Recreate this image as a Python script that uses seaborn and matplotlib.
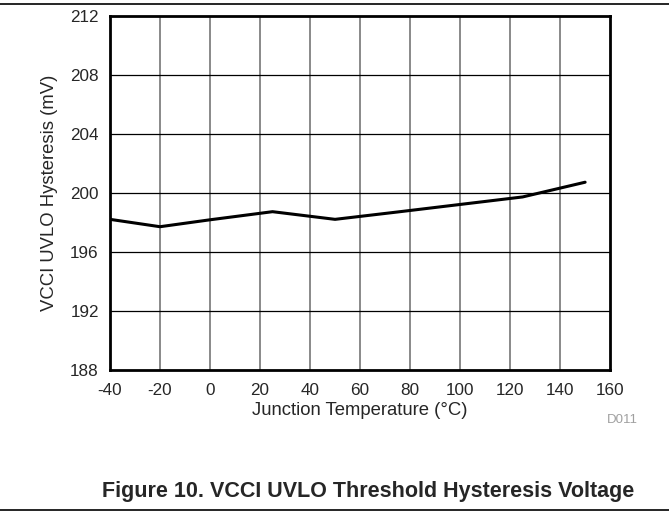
import numpy as np
import pandas as pd
import matplotlib
matplotlib.use("Agg")
import matplotlib.pyplot as plt
import seaborn as sns

temps = [-40, -20, 0, 25, 50, 75, 100, 125, 150]
hyst = [198.23, 197.73, 198.2, 198.75, 198.23, 198.73, 199.24, 199.75, 200.75]
xticks = list(range(-40, 161, 20))
yticks = list(range(188, 213, 4))

sns.set_style("white")
plt.rcParams['font.family'] = ['Liberation Sans', 'DejaVu Sans']
plt.rcParams['axes.unicode_minus'] = False

data = pd.DataFrame({'temp': temps, 'hyst': hyst})

fig = plt.figure(figsize=(6.69, 5.14), dpi=100)
ax = fig.add_axes([0.1644, 0.28, 0.912 - 0.1644, 0.968 - 0.28])

# grid: grey verticals, black horizontals
for x in xticks[1:-1]:
    ax.axvline(x, color='#808080', lw=1.3, zorder=1)
for y in yticks[1:-1]:
    ax.axhline(y, color='black', lw=0.9, zorder=1)

sns.lineplot(data=data, x='temp', y='hyst', color='black', lw=2.2, ax=ax, zorder=3)

ax.set_xlim(-40, 160)
ax.set_ylim(188, 212)
ax.set_xticks(xticks)
ax.set_yticks(yticks)
ax.tick_params(axis='x', length=0, labelsize=12.3, pad=9)
ax.tick_params(axis='y', length=0, labelsize=12.3, pad=8)
for s in ax.spines.values():
    s.set_color('black')
    s.set_linewidth(2)
ax.set_xlabel('Junction Temperature (°C)', fontsize=13.3, labelpad=3)
ax.set_ylabel('VCCI UVLO Hysteresis (mV)', fontsize=13.3, labelpad=9)

fig.text(0.93, 0.183, 'D011', color='#a0a0a0', fontsize=9.5, ha='center', va='center')
fig.text(0.55, 0.043, 'Figure 10. VCCI UVLO Threshold Hysteresis Voltage',
         fontsize=15.5, fontweight='bold', ha='center', va='center')
fig.add_artist(plt.Line2D([0, 1], [1 - 4 / 514, 1 - 4 / 514], color='black', lw=1.2))
fig.add_artist(plt.Line2D([0, 1], [1 - 510 / 514, 1 - 510 / 514], color='black', lw=1.2))

fig.savefig('out.png', dpi=100)
